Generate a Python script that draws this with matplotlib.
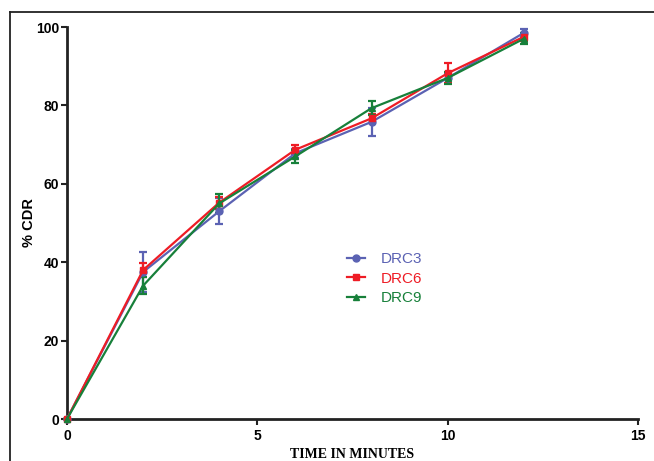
import numpy as np
import matplotlib.pyplot as plt
from matplotlib.lines import Line2D

# time points and release data
time_min = [0, 2, 4, 6, 8, 10, 12]

drc3 = [0, 37.5, 53.0, 67.8, 75.8, 87.0, 98.5]
drc3_err = [0, 5.0, 3.3, 1.2, 3.5, 1.2, 1.0]

drc6 = [0, 38.0, 55.2, 68.7, 76.7, 88.2, 97.5]
drc6_err = [0, 1.8, 1.5, 1.2, 1.2, 2.5, 1.0]

drc9 = [0, 34.0, 55.0, 67.0, 79.3, 87.0, 97.0]
drc9_err = [0, 2.2, 2.5, 1.6, 1.8, 1.6, 1.4]

x_ticks = [0, 5, 10, 15]
y_ticks = [0, 20, 40, 60, 80, 100]

blue = '#5b62b3'
red = '#ee1c25'
green = '#17803a'

fig = plt.figure(figsize=(6.54, 4.61), dpi=100)
ax = fig.add_axes([0.1024, 0.0911, 0.8731, 0.8503])

series = [
  ('DRC3', drc3, drc3_err, blue, 'o'),
  ('DRC6', drc6, drc6_err, red, 's'),
  ('DRC9', drc9, drc9_err, green, '^'),
]
for name, y, err, col, mk in series:
  ax.errorbar(time_min, y, yerr=err, color=col, marker=mk, markersize=5,
              linewidth=1.6, elinewidth=1.6, capsize=3, capthick=1.6,
              label=name, clip_on=False, zorder=3)

ax.set_xlim(0, 15)
ax.set_ylim(0, 100)
ax.set_xticks(x_ticks)
ax.set_yticks(y_ticks)
for s in ['top', 'right']:
  ax.spines[s].set_visible(False)
for s in ['left', 'bottom']:
  ax.spines[s].set_linewidth(2)
  ax.spines[s].set_color('#222222')
ax.tick_params(direction='out', length=4, width=1.5, color='#222222',
               labelsize=10)
ax.tick_params(axis='y', pad=1.5)
for lab in ax.get_xticklabels() + ax.get_yticklabels():
  lab.set_fontweight('bold')
  lab.set_family('Liberation Sans')

ax.set_xlabel('TIME IN MINUTES', fontsize=10, fontweight='bold',
              family='Liberation Serif', labelpad=3)
ax.set_ylabel('% CDR', fontsize=10.5, fontweight='bold',
              family='Liberation Sans', labelpad=0.3)

handles = [Line2D([], [], color=c, marker=m, markersize=5, linewidth=1.6)
           for _, _, _, c, m in series]
leg = ax.legend(handles, [s[0] for s in series], loc='center left',
                bbox_to_anchor=(0.466, 0.358), frameon=False, fontsize=11,
                handlelength=1.2, handletextpad=1.0, labelspacing=0.35)
for txt, s in zip(leg.get_texts(), series):
  txt.set_color(s[3])
  txt.set_family('Liberation Sans')

# outer frame around the chart
fig.add_artist(Line2D([10 / 654, 1], [1 - 12 / 461, 1 - 12 / 461],
                      color='#222222', linewidth=1.3))
fig.add_artist(Line2D([10 / 654, 10 / 654], [0, 1 - 12 / 461],
                      color='#222222', linewidth=1.3))

fig.savefig('out.png', dpi=100)
